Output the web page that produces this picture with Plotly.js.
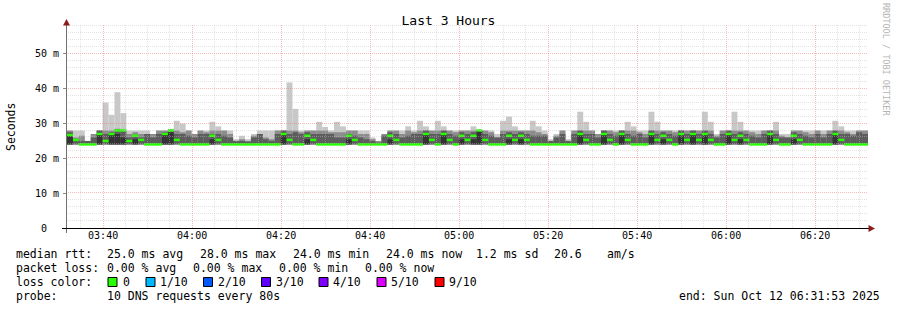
<!DOCTYPE html>
<html>
<head>
<meta charset="utf-8">
<script src="https://cdn.plot.ly/plotly-3.0.1.min.js"></script>
<style>html,body{margin:0;padding:0;background:#fff;}#chart{width:897px;height:310px;}</style>
</head>
<body>
<div id="chart"></div>
<script>
// ---- data (ms), one value per 80 s probe round ----
const startTime = '2025-10-12 03:31:53';
const endTime = '2025-10-12 06:31:53';
const stepSeconds = 80;
const yTickVals = [0, 10, 20, 30, 40, 50];
const yTickText = ['0\u00a0\u00a0', '10 m', '20 m', '30 m', '40 m', '50 m'];
const xTickVals = ['2025-10-12 03:40:00','2025-10-12 04:00:00','2025-10-12 04:20:00','2025-10-12 04:40:00',
  '2025-10-12 05:00:00','2025-10-12 05:20:00','2025-10-12 05:40:00','2025-10-12 06:00:00','2025-10-12 06:20:00'];

const smokeMin = [24,24,24,24,24,24,24,24,24,24,24,24,24,24,24,24,24,24,24,24,24,24,24,24,24,24,24,24,24,24,
  24,24,24,24,24,24,24,24,24,24,24,24,24,24,24,24,24,24,24,24,24,24,24,24,24,24,24,24,24,24,
  24,24,24,24,24,24,24,24,24,24,24,24,24,24,24,24,24,24,24,24,24,24,24,24,24,24,24,24,24,24,
  24,24,24,24,24,24,24,24,24,24,24,24,24,24,24,24,24,24,24,24,24,24,24,24,24,24,24,24,24,24,
  24,24,24,24,24,24,24,24,24,24,24,24,24,24,24];
const smokeMax = [28,28,28,25,27,28,36,32.5,39,33,28,28,28,28,27,28,28,28.5,30.8,30,
  28,27,28,28,30.5,29.2,28,28,25.5,26.5,25.5,27,28,28,28,28,28,41.8,34.2,28,
  28,28,30.5,29,28,30.5,29.2,28,28,28,28,26,25,27,28,28,28,29.2,28,30.8,
  29.2,28,30.8,29.2,28,28,28,28,29.2,28,28,28,27,30.8,32,29.2,28,28,30.8,29.2,
  28,25.5,27,28,25.5,28,33.4,30.5,28,27,28,28,28,28,30.5,29.2,28,28,33.4,30.5,
  28,28,28,28,28,28,28,33.4,30.5,27,28,28,33.4,30.5,28,28,28,28,28,30.5,
  27,27,28,28,28,28,28,28,28,30.8,29.2,28,28,28,28];
const smokeUpper = [28,26,26.5,25,27,28,28,28,28.5,28,27,27.5,27,27,27,28,28,28,28,27.5,
  28,27,28,27.5,28,28,28,27,25,25.5,25,26.5,27,26,25.5,28,28,28,28,27.5,
  28,28,28,28,27.5,27.5,27.5,28,28,27,27,25.5,25,27,28,28,27,28,27.5,28,
  28,28,28,28,28,27.5,28,28,28,28,28,27.5,26,28,28,28,28,28,28,27.5,
  27,25,26.5,28,25,28,28,28,28,27,28,28,27.5,28,28,28,27.5,27,28,28,
  28,28,27.5,28,28,28,28,28,28,26.5,28,28,28,28,28,27.5,27,28,28,28,
  26.5,26,28,28,27.5,27,28,27,28,28,28,27.5,27,28,28];
const smokeMid = [27.5,25.5,25,25,26,28,27,27.5,28,28,26,26.5,26,27,26,27,27.5,28,27,27,
  26.5,26,27,27,27,27,26.5,26,25,25,24.8,26,27,25.5,25,27,28,27,27.5,27,
  27.5,27,27,27,27,26,26,27,26.5,26,25.5,25,24.5,26.5,27.5,27,26,26.5,27,27,
  28,27,27,28,27,26.5,27.5,27,27.5,28,27,26.5,26,27,27.5,27,27.5,27,26.5,26.5,
  26.5,25,26,27,25,27,28,27,27,26,28,27,26.5,28,27,26.5,27,26,28,27,
  27.5,27,26.5,28,27,28,27,28,27,26,27,28,27,27.5,27,26.5,26,27,28,27,
  26,26,27.5,27,26.5,26,27,26,27,28,27,27,26.5,27.5,27];
const smokeCore = [26.7,24,24,24,24,27,24,27,27,26,24,25.5,24,24,24,24,27,27.5,24,24,
  24,24,24,24,25.5,24,24,24,24,24,24,24,24,24,24,24,27,24,24,24,
  25.5,24,24,24,24,24,24,25.5,24,24,24,24,24,24,25.5,24,24,24,24,24,
  27,24,24,27,24,24,25.5,24,25.5,28,24,24,24,24,25.5,24,25.5,24,24,24,
  24,24,24,24,24,24,27,24,24,24,27,24,24,27,24,24,24,24,27,24,
  25.5,24,24,27,24,27,24,27,24,24,24,27,24,25.5,24,24,24,24,27,24,
  24,24,25.5,24,24,24,24,24,24,27,24,24,24,24,24];
const medianRtt = [26.7,25.3,24,24,24,27,25,27,28,28,25,26.5,25.3,24,24,24,27,28,25.3,24,
  24,24,24,24,26.5,25.3,24,24,24,24,24,24,24,24,24,24,27,25.3,24,24,
  26.5,25.3,24,24,24,24,24,26.5,25.3,24,24,24,24,24,26.5,25.3,24,24,24,24,
  27,25.3,24,27,25.3,24,26.5,25.3,26.5,28,25.3,24,24,24,26.5,25.3,26.5,25.3,24,24,
  24,24,24,24,24,24,27,25.3,24,24,27,25.3,24,27,25.3,24,24,24,27,25.3,
  26.5,25.3,24,27,25.3,27,25.3,27,25.3,24,24,27,25.3,26.5,25.3,24,24,24,27,25.3,
  24,24,26.5,25.3,24,24,24,24,24,27,25.3,24,24,24,24];

const lossLabels = ['0', '1/10', '2/10', '3/10', '4/10', '5/10', '9/10'];
const lossColors = ['#26ff00', '#00b8ff', '#0059ff', '#5e00ff', '#7e00ff', '#dd00ff', '#ff0000'];

// ---- helpers ----
const FONT = 'DejaVu Sans Mono, monospace';
function parseT(s){ const [d,t]=s.split(' '); const [Y,M,D]=d.split('-').map(Number); const [h,m,sec]=t.split(':').map(Number); return Date.UTC(Y,M-1,D,h,m,sec); }
function fmtT(ms){ return new Date(ms).toISOString().replace('T',' ').slice(0,19); }
const t0 = parseT(startTime), tEnd = parseT(endTime);
const times = medianRtt.map((_, i) => fmtT(t0 + i*stepSeconds*1000));
const W = 897, H = 310, L = 67, R = 29, T = 25, B = 82;
const PW = W - L - R, PH = H - T - B;
const Y_MAX = 58.3;
const px = x => (x - L) / PW;
const py = y => (H - B - y) / PH;

function band(lo, hi, color){
  return {type:'bar', x: times, base: lo, y: hi.map((v,i)=>v-lo[i]), width: stepSeconds*1000, offset: 0,
    marker:{color: color, line:{width:0}}, hoverinfo:'skip', showlegend:false};
}
const traces = [
  band(smokeMin, smokeMax, '#c8c8c8'),
  band(smokeMin, smokeUpper, '#8c8c8c'),
  band(smokeMin, smokeMid, '#5c5c5c'),
  band(smokeMin, smokeCore, '#333333')
];
const mx = [], my = [];
medianRtt.forEach((m, i) => { mx.push(times[i], fmtT(t0 + (i+1)*stepSeconds*1000), null); my.push(m, m, null); });
traces.push({type:'scatter', mode:'lines', x: mx, y: my, line:{color:'#26ff00', width:2.5}, hoverinfo:'skip', showlegend:false});

// ---- grid & axes as shapes (semi-transparent, above the smoke like rrdtool), snapped to pixel centres ----
const GRID = 'rgba(192,192,192,0.45)';
const MGRID = 'rgba(240,120,120,0.5)';
const shapes = [];
const fiveMin = 5*60*1000;
for (let t = Math.ceil(t0/fiveMin)*fiveMin; t < tEnd; t += fiveMin){
  const major = new Date(t).getUTCMinutes() % 20 === 0;
  const xp = Math.floor(L + (t - t0)/(tEnd - t0)*PW) + 0.5;
  shapes.push({type:'line', layer:'above', xref:'paper', yref:'paper', x0: px(xp), x1: px(xp), y0: 0, y1: 1,
    line:{color: major ? MGRID : GRID, width:1, dash:'1px,1px'}});
}
for (let v = 2; v <= 58; v += 2){
  const major = v % 10 === 0;
  const yp = Math.round(H - B - v/Y_MAX*PH) - 0.5;
  shapes.push({type:'line', layer:'above', xref:'paper', yref:'paper', x0: px(L+1), x1: 1, y0: py(yp), y1: py(yp),
    line:{color: major ? MGRID : GRID, width:1, dash:'1px,1px'}});
}
// axis lines
shapes.push({type:'line', layer:'above', xref:'paper', yref:'paper', x0: px(66.5), x1: px(66.5), y0: py(233), y1: py(25), line:{color:'#707070', width:1}});
shapes.push({type:'line', layer:'above', xref:'paper', yref:'paper', x0: px(62), x1: px(870), y0: py(228.5), y1: py(228.5), line:{color:'#000', width:1}});
// arrows
shapes.push({type:'path', layer:'above', xref:'paper', yref:'paper',
  path: `M ${px(66.5)} ${py(19)} L ${px(63)} ${py(25.5)} L ${px(70)} ${py(25.5)} Z`, fillcolor:'#8b1c1c', line:{width:0}});
shapes.push({type:'path', layer:'above', xref:'paper', yref:'paper',
  path: `M ${px(875)} ${py(228.5)} L ${px(868.5)} ${py(225)} L ${px(868.5)} ${py(232)} Z`, fillcolor:'#8b1c1c', line:{width:0}});

// ---- legend texts ----
const annotations = [];
function txt(x, y, s, opts){
  annotations.push(Object.assign({xref:'paper', yref:'paper', x: px(x), y: py(y), text: s, showarrow:false,
    xanchor:'left', yanchor:'middle', borderpad:0, font:{family: FONT, size: 11.5, color:'#000'}}, opts||{}));
}
txt(15, 254, 'median rtt:');
txt(106, 254, '25.0 ms avg');
txt(199, 254, '28.0 ms max');
txt(292, 254, '24.0 ms min');
txt(385, 254, '24.0 ms now');
txt(475, 254, '1.2 ms sd');
txt(553, 254, '20.6');
txt(606, 254, 'am/s');
txt(15, 268, 'packet loss:');
txt(106, 268, '0.00 % avg');
txt(192, 268, '0.00 % max');
txt(278, 268, '0.00 % min');
txt(364, 268, '0.00 % now');
txt(15, 282, 'loss color:');
const sqX = [108, 146, 203.5, 261.5, 319, 377, 435];
const lblX = [121.5, 159, 217, 275, 332, 390, 448];
lossLabels.forEach((lab, i) => {
  shapes.push({type:'rect', layer:'above', xref:'paper', yref:'paper', x0: px(sqX[i]), x1: px(sqX[i]+9), y0: py(277.5), y1: py(286.5),
    fillcolor: lossColors[i], line:{color:'#000', width:1}});
  txt(lblX[i], 282, lab);
});
txt(15, 296, 'probe:');
txt(106, 296, '10 DNS requests every 80s');
txt(881, 296, 'end: Sun Oct 12 06:31:53 2025', {xanchor:'right'});
// y-axis title
annotations.push({xref:'paper', yref:'paper', x: px(11), y: py(127), text:'Seconds', textangle:-90, showarrow:false,
  xanchor:'center', yanchor:'middle', font:{family: FONT, size: 11.5, color:'#000'}});
// watermark
annotations.push({xref:'paper', yref:'paper', x: px(886), y: py(59), text:'RRDTOOL / TOBI OETIKER', textangle:90, showarrow:false,
  xanchor:'center', yanchor:'middle', font:{family: FONT, size: 8.5, color:'#b4b4b4'}});

const layout = {
  width: W, height: H,
  margin: {l: L, r: R, t: T, b: B, pad: 0},
  paper_bgcolor: '#fff', plot_bgcolor: '#fff',
  barmode: 'overlay',
  title: {text: 'Last 3 Hours', x: 0.5, xref:'container', xanchor:'center', y: 1 - 20/H, yref:'container', yanchor:'middle',
    font:{family: FONT, size: 13, color:'#000'}},
  xaxis: {type:'date', range:[startTime, endTime], showgrid:false, zeroline:false, showline:false,
    tickvals: xTickVals, tickformat:'%H:%M', ticks:'', tickfont:{family: FONT, size: 10, color:'#000'}, fixedrange:true},
  yaxis: {range:[0, Y_MAX], showgrid:false, zeroline:false, showline:false,
    tickvals: yTickVals, ticktext: yTickText, ticks:'outside', ticklen:3, tickcolor:'#888', ticklabelstandoff: 2,
    tickfont:{family: FONT, size: 10, color:'#000'}, fixedrange:true},
  shapes: shapes,
  annotations: annotations,
  showlegend: false
};
Plotly.newPlot('chart', traces, layout, {displayModeBar:false, staticPlot:true});
</script>
</body>
</html>
